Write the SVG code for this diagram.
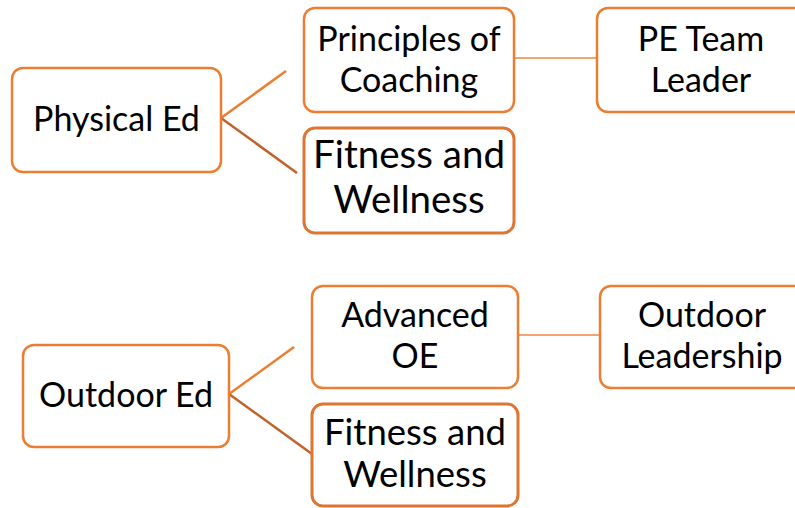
<svg xmlns="http://www.w3.org/2000/svg" width="795" height="508" viewBox="0 0 795 508">
<style>
.box{fill:#fff;stroke:#ED7D31;stroke-width:2.5}
.box2{fill:#fff;stroke:#DE7532;stroke-width:3}
.t{font-family:Lato,"Liberation Sans",sans-serif;font-size:34px;fill:#000;text-anchor:middle}
.tb{font-family:Lato,"Liberation Sans",sans-serif;font-size:38.5px;fill:#000;text-anchor:middle}
.tm{font-family:Lato,"Liberation Sans",sans-serif;font-size:36.5px;fill:#000;text-anchor:middle}
.c1{stroke:#ED7D31;stroke-width:2.5;fill:none}
.c2{stroke:#C0622A;stroke-width:2.5;fill:none}
.c3{stroke:#F4A46E;stroke-width:2;fill:none}
</style>
<rect width="795" height="508" fill="#fff"/>
<g id="connectors">
<line class="c1" x1="221" y1="118" x2="286" y2="71"/>
<line class="c2" x1="221" y1="118" x2="297" y2="173"/>
<line class="c3" x1="514" y1="58" x2="597" y2="58"/>
<line class="c1" x1="229" y1="394" x2="294" y2="347"/>
<line class="c2" x1="229" y1="394" x2="312" y2="454"/>
<line class="c3" x1="518" y1="335" x2="600" y2="335"/>
</g>
<g id="physical-ed">
<rect class="box" x="12" y="68" width="209" height="104" rx="11"/>
<text class="t" x="116.5" y="131">Physical Ed</text>
</g>
<g id="principles">
<rect class="box" x="304" y="8" width="210" height="104" rx="11"/>
<text class="t" x="409" y="51">Principles of</text>
<text class="t" x="409" y="92">Coaching</text>
</g>
<g id="fitness1">
<rect class="box2" x="304" y="128" width="210" height="105" rx="11"/>
<text class="tb" x="409" y="168">Fitness and</text>
<text class="tb" x="409" y="213">Wellness</text>
</g>
<g id="pe-team-leader">
<rect class="box" x="597" y="8" width="220" height="104" rx="11"/>
<text class="t" x="701" y="51">PE Team</text>
<text class="t" x="701" y="92">Leader</text>
</g>
<g id="outdoor-ed">
<rect class="box" x="23" y="345" width="206" height="102" rx="11"/>
<text class="t" x="126" y="407">Outdoor Ed</text>
</g>
<g id="advanced-oe">
<rect class="box" x="312" y="286" width="206" height="102" rx="11"/>
<text class="t" x="415" y="327">Advanced</text>
<text class="t" x="415" y="368">OE</text>
</g>
<g id="fitness2">
<rect class="box2" x="312" y="404" width="206" height="102" rx="11"/>
<text class="tm" x="415" y="445">Fitness and</text>
<text class="tm" x="415" y="487">Wellness</text>
</g>
<g id="outdoor-leadership">
<rect class="box" x="600" y="286" width="220" height="102" rx="11"/>
<text class="t" x="702" y="327">Outdoor</text>
<text class="t" x="702" y="368">Leadership</text>
</g>
</svg>
